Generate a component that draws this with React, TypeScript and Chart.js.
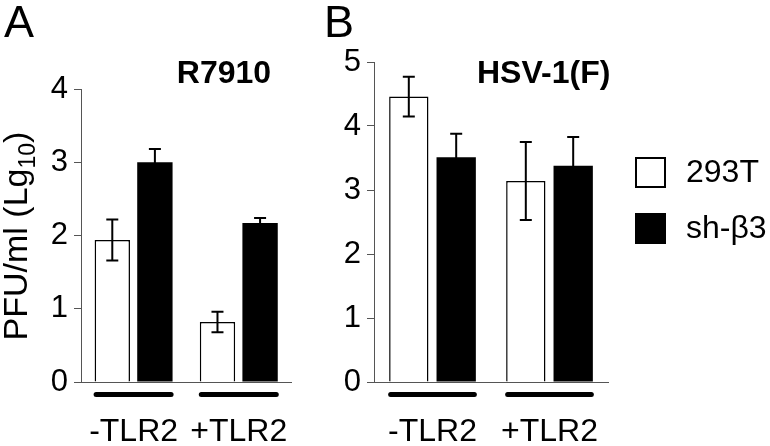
import React, { useEffect, useRef } from 'react';
import { Chart, registerables } from 'chart.js';

Chart.register(...registerables);

const FONT = "'Liberation Sans', Arial, Helvetica, sans-serif";
const AXIS = '#555555';

const categories = ['-TLR2', '+TLR2'];
const seriesNames = ['293T', 'sh-β3'];

const r7910Control = [1.94, 0.82];
const r7910ControlErr = [0.28, 0.14];
const r7910Knockdown = [3.0, 2.17];
const r7910KnockdownErr = [0.18, 0.07];

const hsvControl = [4.46, 3.14];
const hsvControlErr = [0.31, 0.61];
const hsvKnockdown = [3.51, 3.38];
const hsvKnockdownErr = [0.37, 0.45];

const yMaxA = 4;
const yMaxB = 5;

type PanelProps = {
  left: number;
  width: number;
  letter: string;
  title: string;
  titleX: number;
  titleAlign: CanvasTextAlign;
  yMax: number;
  axisWidth: number;
  padTop: number;
  padRight: number;
  control: number[];
  controlErr: number[];
  knockdown: number[];
  knockdownErr: number[];
  showYLabel: boolean;
  showLegend: boolean;
};

function Panel(p: PanelProps) {
  const ref = useRef<HTMLCanvasElement | null>(null);

  useEffect(() => {
    const canvas = ref.current;
    if (!canvas) return;
    const errs = [p.controlErr, p.knockdownErr];

    const extras = {
      id: 'panelExtras',
      afterDatasetsDraw(chart: any) {
        const ctx = chart.ctx as CanvasRenderingContext2D;
        const yS = chart.scales.y;
        const xS = chart.scales.x;
        ctx.save();
        ctx.strokeStyle = '#000';
        ctx.lineWidth = 2;
        chart.data.datasets.forEach((ds: any, i: number) => {
          const meta = chart.getDatasetMeta(i);
          meta.data.forEach((el: any, j: number) => {
            const v = ds.data[j] as number;
            const e = errs[i][j];
            const yt = yS.getPixelForValue(v + e);
            const yb = yS.getPixelForValue(v - e);
            ctx.beginPath();
            ctx.moveTo(el.x, yt);
            ctx.lineTo(el.x, yb);
            ctx.moveTo(el.x - 6, yt);
            ctx.lineTo(el.x + 6, yt);
            ctx.moveTo(el.x - 6, yb);
            ctx.lineTo(el.x + 6, yb);
            ctx.stroke();
          });
        });
        const m0 = chart.getDatasetMeta(0);
        const m1 = chart.getDatasetMeta(1);
        ctx.lineWidth = 5;
        ctx.lineCap = 'round';
        categories.forEach((_, j) => {
          const a = m0.data[j];
          const b = m1.data[j];
          const l = a.x - a.width / 2 + 1.5;
          const r = b.x + b.width / 2 - 1.5;
          const y = xS.top + 12.5;
          ctx.beginPath();
          ctx.moveTo(l, y);
          ctx.lineTo(r, y);
          ctx.stroke();
        });
        ctx.restore();
      },
      afterDraw(chart: any) {
        const ctx = chart.ctx as CanvasRenderingContext2D;
        ctx.save();
        ctx.fillStyle = '#000';
        ctx.textBaseline = 'alphabetic';
        ctx.font = `45px ${FONT}`;
        ctx.textAlign = 'left';
        ctx.fillText(p.letter, 4, 37);
        ctx.font = `bold 32px ${FONT}`;
        ctx.textAlign = p.titleAlign;
        ctx.fillText(p.title, p.titleX, 83);
        if (p.showYLabel) {
          ctx.save();
          ctx.translate(27, 236);
          ctx.rotate(-Math.PI / 2);
          const main1 = 'PFU/ml (Lg';
          const sub = '10';
          const main2 = ')';
          ctx.font = `34px ${FONT}`;
          const w1 = ctx.measureText(main1).width;
          const w3 = ctx.measureText(main2).width;
          ctx.font = `23px ${FONT}`;
          const w2 = ctx.measureText(sub).width;
          const total = w1 + w2 + w3;
          let x = -total / 2;
          ctx.textAlign = 'left';
          ctx.font = `34px ${FONT}`;
          ctx.fillText(main1, x, 0);
          x += w1;
          ctx.font = `23px ${FONT}`;
          ctx.fillText(sub, x, 8);
          x += w2;
          ctx.font = `34px ${FONT}`;
          ctx.fillText(main2, x, 0);
          ctx.restore();
        }
        if (p.showLegend) {
          const bx = 635 - p.left;
          const tops = [157, 213];
          chart.data.datasets.forEach((ds: any, i: number) => {
            const top = tops[i];
            const size = 31;
            ctx.fillStyle = ds.backgroundColor;
            ctx.fillRect(bx, top, size, size);
            ctx.strokeStyle = '#000';
            ctx.lineWidth = 2;
            ctx.strokeRect(bx + 1, top + 1, size - 2, size - 2);
            ctx.fillStyle = '#000';
            ctx.font = `32px ${FONT}`;
            ctx.textAlign = 'left';
            ctx.textBaseline = 'middle';
            ctx.fillText(ds.label, 686 - p.left, top + size / 2 + 1);
          });
        }
        ctx.restore();
      },
    };

    const chart = new Chart(canvas, {
      type: 'bar',
      data: {
        labels: categories,
        datasets: [
          {
            label: seriesNames[0],
            data: p.control,
            backgroundColor: '#ffffff',
            borderColor: '#000000',
            borderWidth: 1.5,
          },
          {
            label: seriesNames[1],
            data: p.knockdown,
            backgroundColor: '#000000',
            borderColor: '#000000',
            borderWidth: 0,
          },
        ],
      },
      options: {
        responsive: false,
        animation: false,
        devicePixelRatio: 1,
        layout: { padding: { top: p.padTop, right: p.padRight, left: 0, bottom: 0 } },
        datasets: { bar: { categoryPercentage: 0.81, barPercentage: 0.83 } },
        plugins: { legend: { display: false }, tooltip: { enabled: false } },
        scales: {
          x: {
            grid: { display: false, drawTicks: false },
            border: { display: true, color: AXIS, width: 1 },
            ticks: {
              color: '#000',
              font: { family: FONT, size: 32 },
              padding: 31,
              maxRotation: 0,
              autoSkip: false,
            },
            afterFit: (s: any) => {
              s.height = 446 - 382;
            },
          },
          y: {
            min: 0,
            max: p.yMax,
            ticks: { stepSize: 1, color: '#000', font: { family: FONT, size: 31 }, padding: 6 },
            grid: { drawOnChartArea: false, drawTicks: true, tickLength: 7, color: AXIS },
            border: { display: true, color: AXIS, width: 1 },
            afterFit: (s: any) => {
              s.width = p.axisWidth;
            },
          },
        },
      } as any,
      plugins: [extras],
    });
    return () => chart.destroy();
  }, []);

  return (
    <canvas
      ref={ref}
      width={p.width}
      height={446}
      style={{ position: 'absolute', left: p.left, top: 0, width: p.width, height: 446 }}
    />
  );
}

export default function App() {
  return (
    <div
      style={{
        position: 'fixed',
        left: 0,
        top: 0,
        width: 770,
        height: 446,
        background: '#fff',
        overflow: 'hidden',
      }}
    >
      <Panel
        left={0}
        width={320}
        letter="A"
        title="R7910"
        titleX={224}
        titleAlign="center"
        yMax={yMaxA}
        axisWidth={81}
        padTop={89}
        padRight={7}
        control={r7910Control}
        controlErr={r7910ControlErr}
        knockdown={r7910Knockdown}
        knockdownErr={r7910KnockdownErr}
        showYLabel={true}
        showLegend={false}
      />
      <Panel
        left={320}
        width={450}
        letter="B"
        title="HSV-1(F)"
        titleX={157}
        titleAlign="left"
        yMax={yMaxB}
        axisWidth={54}
        padTop={62}
        padRight={162}
        control={hsvControl}
        controlErr={hsvControlErr}
        knockdown={hsvKnockdown}
        knockdownErr={hsvKnockdownErr}
        showYLabel={false}
        showLegend={true}
      />
    </div>
  );
}
